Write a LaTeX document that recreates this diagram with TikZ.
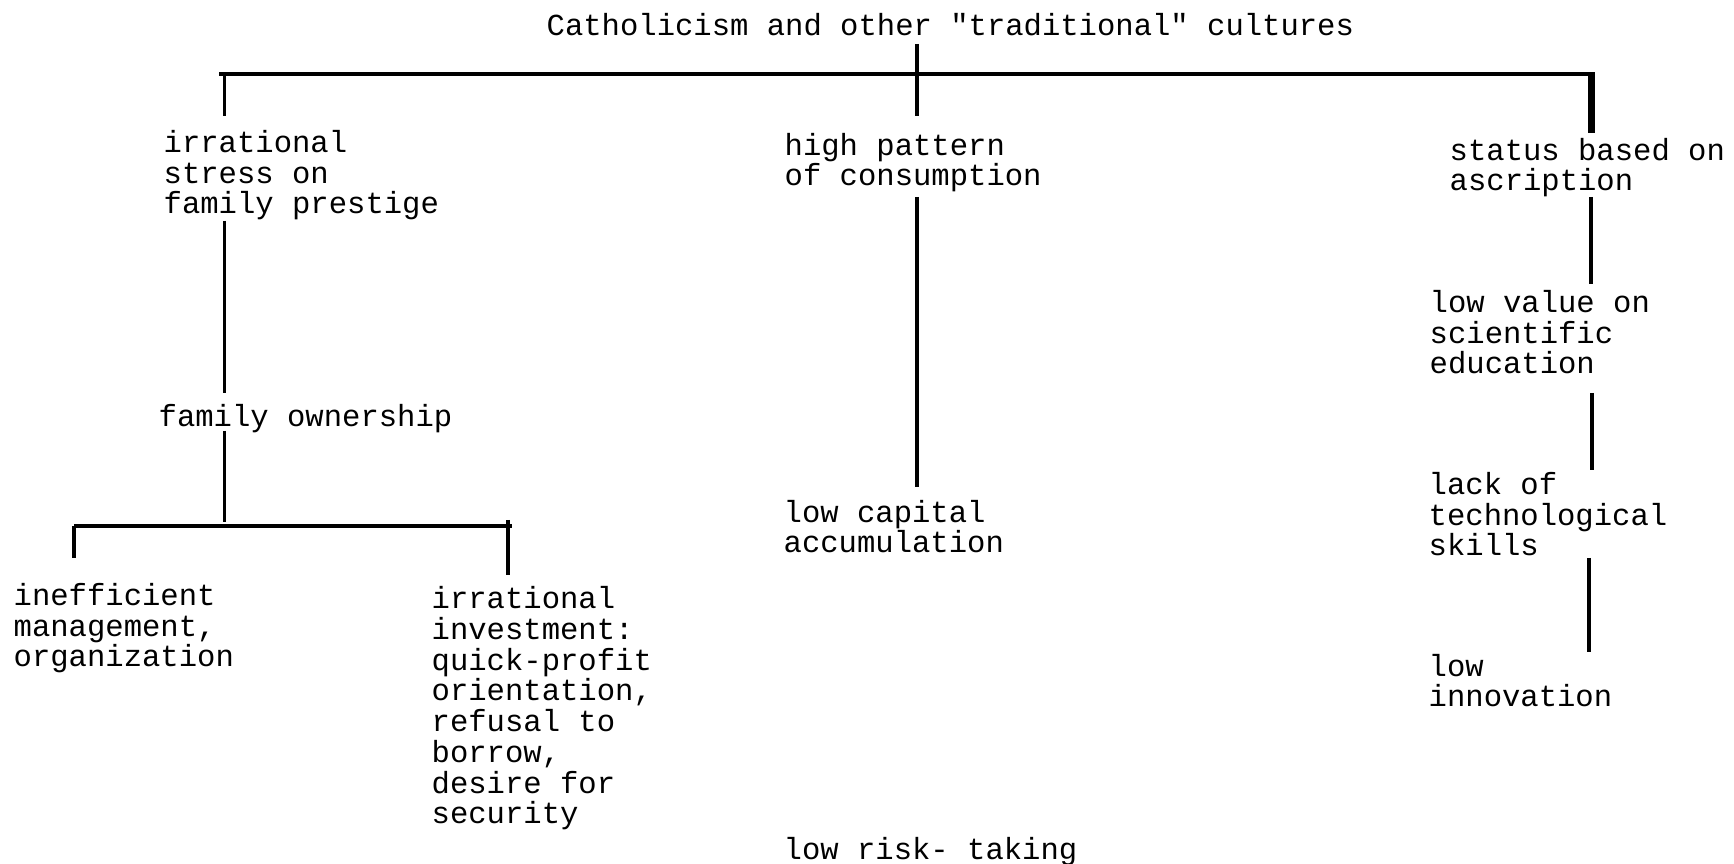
\documentclass[tikz,border=0pt]{standalone}
\usepackage{fontspec}
\setmonofont{Liberation Mono}
\tikzset{
  item/.style={anchor=base west, inner sep=0pt, align=left,
    font=\ttfamily\fontsize{8.7}{8.76}\selectfont},
  link/.style={line width=1pt},
  bar/.style={line width=1.4pt}
}

\begin{document}
\begin{tikzpicture}
  \useasboundingbox (0,0) rectangle (17.34,-8.64);

  % text blocks (placed by the baseline of the last line)
  \node[item] (catholic) at (5.46,-0.355) {Catholicism and other "traditional" cultures};
  \node[item] (stress) at (1.63,-2.14) {irrational\\stress on\\family prestige};
  \node[item] (consume) at (7.84,-1.86) {high pattern\\of consumption};
  \node[item] (status) at (14.49,-1.91) {status based on\\ascription};
  \node[item] (owner) at (1.58,-4.265) {family ownership};
  \node[item] (manage) at (0.13,-6.67) {inefficient\\management,\\organization};
  \node[item] (invest) at (4.31,-8.24) {irrational\\investment:\\quick-profit\\orientation,\\refusal to\\borrow,\\desire for\\security};
  \node[item] (capital) at (7.83,-5.53) {low capital\\accumulation};
  \node[item] (risk) at (7.83,-8.60) {low risk- taking};
  \node[item] (educ) at (14.29,-3.74) {low value on\\scientific\\education};
  \node[item] (skills) at (14.28,-5.56) {lack of\\technological\\skills};
  \node[item] (innov) at (14.28,-7.07) {low\\innovation};

  % junctions
  \coordinate (top-w) at (2.19,-0.74);
  \coordinate (top-e) at (15.95,-0.74);
  \coordinate (own-w) at (0.74,-5.26);
  \coordinate (own-e) at (5.12,-5.26);

  % top level
  \draw[link] (9.17,-0.44) -- (9.17,-1.16);
  \draw[bar] (top-w) -- (top-e);
  \draw[link] (2.245,-0.74) -- (2.245,-1.16);
  \draw[line width=2pt] (15.914,-0.74) -- (15.914,-1.33);

  % left branch
  \draw[link] (2.245,-2.21) -- (2.245,-3.93);
  \draw[link] (2.245,-4.31) -- (2.245,-5.22);
  \draw[bar] (own-w) -- (own-e);
  \draw[link] (own-w) -- (0.74,-5.58);
  \draw[link] (5.08,-5.20) -- (5.08,-5.75);

  % middle branch
  \draw[link] (9.17,-1.97) -- (9.17,-4.87);

  % right branch
  \draw[link] (15.91,-1.97) -- (15.91,-2.84);
  \draw[link] (15.92,-3.93) -- (15.92,-4.70);
  \draw[link] (15.89,-5.58) -- (15.89,-6.52);
\end{tikzpicture}
\end{document}
